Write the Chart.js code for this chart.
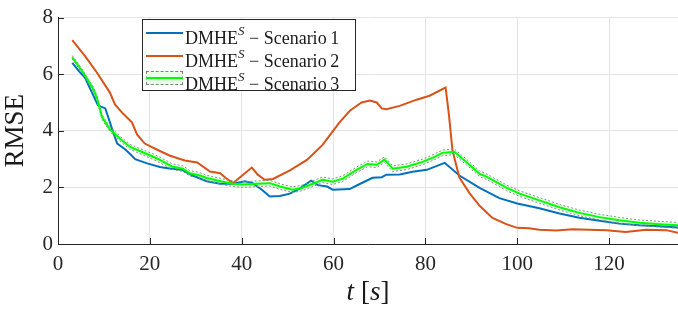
<!DOCTYPE html>
<html>
<head>
<meta charset="utf-8">
<script src="https://cdn.jsdelivr.net/npm/chart.js@4.4.1/dist/chart.umd.min.js"></script>
<style>
  body { margin: 0; background: #fff; }
  #wrap { position: relative; width: 678px; height: 311px; }
  #legend {
    position: absolute; left: 142px; top: 19px; width: 212px; height: 70px;
    border: 1px solid #262626; background: #fff;
    font-family: "Liberation Serif", serif; font-size: 18px; color: #1a1a1a;
  }
  .row { position: absolute; left: 0; height: 23px; line-height: 23px; white-space: nowrap; }
  .swatch { position: absolute; left: 3px; width: 37px; }
  .lbl { position: absolute; left: 42px; top: 0; }
  .lbl sup { font-size: 13px; font-style: italic; position: relative; top: -2px; }
  #xtitle {
    position: absolute; left: 318px; top: 276px; width: 100px; text-align: center;
    font-family: "Liberation Serif", serif; font-size: 27px; color: #1a1a1a;
  }
</style>
</head>
<body>
<div id="wrap">
  <canvas id="chart" width="678" height="311"></canvas>
  <div id="legend">
    <div class="row" style="top:1px;">
      <div class="swatch" style="top:11px;height:2px;background:#0072BD;"></div>
      <span class="lbl">DMHE<sup>S</sup> &minus; Scenario&#8201;1</span>
    </div>
    <div class="row" style="top:24px;">
      <div class="swatch" style="top:11px;height:2px;background:#D95319;"></div>
      <span class="lbl">DMHE<sup>S</sup> &minus; Scenario&#8201;2</span>
    </div>
    <div class="row" style="top:47px;">
      <div class="swatch" style="top:4px;height:14px;border:1px dashed #808080;background:#e6ffe6;box-sizing:border-box;"></div>
      <div class="swatch" style="top:10px;height:2px;background:#00ff00;"></div>
      <span class="lbl">DMHE<sup>S</sup> &minus; Scenario&#8201;3</span>
    </div>
  </div>
  <div id="xtitle"><i>t</i> [<i>s</i>]</div>
</div>
<script>
// ─── Data ────────────────────────────────────────────────────────────────────

const t1 = [3.1, 3.6, 4.6, 5.9, 7.6, 8.7, 10.3, 11.3, 12.1, 12.9, 14.6, 15.7, 16.8, 19.4, 22.2, 24.6, 27, 29.3, 32.4, 35.3,
            38.1, 40.7, 42.4, 44.4, 46.1, 48.3, 50.5, 52.6, 55.1, 56.6, 58.6, 59.8, 63.5, 65.7, 68.5, 70.5, 71.5, 74.4, 77.2, 80.3,
            84.2, 87.4, 91.8, 96.1, 100, 104.8, 109.2, 113.5, 117.9, 122.2, 126.6, 130.9, 135];
const rmse1 = [6.4, 6.3, 6.1, 5.87, 5.28, 4.9, 4.79, 4.3, 3.9, 3.55, 3.35, 3.18, 3.0, 2.85, 2.72, 2.66, 2.62, 2.42, 2.22, 2.13,
               2.13, 2.22, 2.15, 1.92, 1.68, 1.7, 1.78, 1.96, 2.24, 2.08, 2.03, 1.92, 1.94, 2.12, 2.34, 2.36, 2.45, 2.46, 2.55, 2.62,
               2.87, 2.42, 1.98, 1.62, 1.43, 1.26, 1.08, 0.93, 0.82, 0.72, 0.66, 0.63, 0.58];

const t2 = [3.1, 5.9, 8.5, 11.3, 12.4, 14.2, 16.1, 17.2, 18.9, 21.6, 24.4, 27.6, 30.3, 33.1, 35.3, 36.8, 38.1, 40.3, 42.2, 43.5,
            45, 46.8, 50.5, 54.2, 57.6, 61.3, 63.5, 64.6, 66.1, 67.9, 69.4, 70.5, 71.5, 74.4, 78.1, 80.9, 84.4, 85.1, 85.9, 87.4,
            89.6, 91.8, 94.6, 97.6, 100, 102.6, 104.8, 108.5, 112, 115.6, 119.4, 123.6, 128.1, 132.4, 135];
const rmse2 = [7.2, 6.64, 6.05, 5.35, 4.93, 4.6, 4.3, 3.87, 3.55, 3.33, 3.12, 2.95, 2.88, 2.56, 2.5, 2.3, 2.15, 2.45, 2.7, 2.45,
               2.27, 2.3, 2.6, 2.97, 3.5, 4.3, 4.7, 4.83, 5.0, 5.07, 5.0, 4.79, 4.76, 4.88, 5.1, 5.24, 5.53, 4.6, 3.3, 2.35,
               1.8, 1.35, 0.92, 0.7, 0.57, 0.56, 0.5, 0.48, 0.52, 0.5, 0.49, 0.42, 0.5, 0.49, 0.4];

const t3 = [3.1, 5.5, 7.6, 8.5, 9.6, 11.3, 13.5, 15.7, 18.3, 20.5, 22.2, 24.8, 27.2, 28.7, 30.9, 32.4, 35.9, 38.1, 40.3, 43.3,
            46.1, 48.3, 51.1, 53.1, 55.5, 57.6, 59.8, 62, 65, 67.4, 69.4, 71.1, 72.9, 75.9, 79.4, 82, 83.7, 86.3, 88.9, 91.8,
            93.3, 97.6, 100.5, 104.8, 109.2, 113.5, 117.9, 122.2, 126.6, 130.9, 135];
const rmse3 = [6.6, 6.05, 5.5, 5.15, 4.48, 4.06, 3.72, 3.43, 3.25, 3.1, 2.97, 2.74, 2.66, 2.5, 2.42, 2.33, 2.2, 2.13, 2.1, 2.13,
               2.15, 2.03, 1.92, 1.98, 2.13, 2.27, 2.2, 2.31, 2.62, 2.83, 2.8, 2.98, 2.66, 2.73, 2.9, 3.08, 3.22, 3.26, 2.9, 2.48,
               2.38, 1.99, 1.78, 1.54, 1.3, 1.1, 0.95, 0.84, 0.75, 0.7, 0.66];
const band3Upper = [6.66, 6.12, 5.58, 5.24, 4.56, 4.15, 3.81, 3.52, 3.34, 3.2, 3.07, 2.84, 2.76, 2.6, 2.52, 2.43, 2.3, 2.23, 2.2, 2.23,
                    2.25, 2.13, 2.02, 2.08, 2.23, 2.37, 2.3, 2.41, 2.72, 2.93, 2.9, 3.08, 2.76, 2.83, 3.0, 3.18, 3.32, 3.36, 3.0, 2.58,
                    2.48, 2.09, 1.88, 1.64, 1.4, 1.2, 1.05, 0.94, 0.85, 0.8, 0.76];
const band3Lower = [6.54, 5.98, 5.42, 5.06, 4.4, 3.97, 3.63, 3.34, 3.16, 3.0, 2.87, 2.64, 2.56, 2.4, 2.32, 2.23, 2.1, 2.03, 2.0, 2.03,
                    2.05, 1.93, 1.82, 1.88, 2.03, 2.17, 2.1, 2.21, 2.52, 2.73, 2.7, 2.88, 2.56, 2.63, 2.8, 2.98, 3.12, 3.16, 2.8, 2.38,
                    2.28, 1.89, 1.68, 1.44, 1.2, 1.0, 0.85, 0.74, 0.65, 0.6, 0.56];

const xTicks = [0, 20, 40, 60, 80, 100, 120];
const yTicks = [0, 2, 4, 6, 8];

// ─── Helpers ─────────────────────────────────────────────────────────────────

const pts = (xs, ys) => xs.map((x, i) => ({ x, y: ys[i] }));
const serif = '"Liberation Serif", serif';
const axisCol = '#262626';

// MATLAB-style ticks pointing into the plot
const innerTicks = {
  id: 'innerTicks',
  afterDatasetsDraw(chart) {
    const { ctx, chartArea: a, scales: { x, y } } = chart;
    ctx.save();
    ctx.strokeStyle = axisCol;
    ctx.lineWidth = 1;
    ctx.beginPath();
    xTicks.forEach(v => {
      const px = Math.round(x.getPixelForValue(v)) + 0.5;
      ctx.moveTo(px, a.bottom); ctx.lineTo(px, a.bottom - 6);
    });
    yTicks.forEach(v => {
      const py = Math.round(y.getPixelForValue(v)) + 0.5;
      ctx.moveTo(a.left, py); ctx.lineTo(a.left + 6, py);
    });
    ctx.stroke();
    ctx.restore();
  },
};

new Chart(document.getElementById('chart'), {
  type: 'line',
  data: {
    datasets: [
      { data: pts(t3, rmse3),      borderColor: '#00ff00', borderWidth: 2, order: 0 },
      { data: pts(t3, band3Upper), borderColor: '#8c8c8c', borderWidth: 1, borderDash: [2, 2], order: 1 },
      { data: pts(t3, band3Lower), borderColor: '#8c8c8c', borderWidth: 1, borderDash: [2, 2], order: 2,
        fill: '-1', backgroundColor: 'rgba(0,255,0,0.10)' },
      { data: pts(t2, rmse2),      borderColor: '#D95319', borderWidth: 2, order: 3 },
      { data: pts(t1, rmse1),      borderColor: '#0072BD', borderWidth: 2, order: 4 },
    ],
  },
  options: {
    responsive: false,
    animation: false,
    devicePixelRatio: 1,
    layout: { padding: { top: 14, right: 0, left: 0, bottom: 0 } },
    elements: { point: { radius: 0 }, line: { tension: 0, fill: false } },
    plugins: { legend: { display: false }, tooltip: { enabled: false } },
    scales: {
      x: {
        type: 'linear', min: 0, max: 135,
        afterFit: s => { s.height = 67; },
        border: { color: axisCol, width: 1 },
        grid: { color: '#e4e4e4', drawTicks: false },
        ticks: { stepSize: 20, includeBounds: false, padding: 8, color: '#262626',
                 font: { family: serif, size: 21 } },
      },
      y: {
        min: 0, max: 8,
        afterFit: s => { s.width = 58; },
        border: { color: axisCol, width: 1 },
        grid: { color: '#e4e4e4', drawTicks: false },
        ticks: { stepSize: 2, padding: 5, color: '#262626', font: { family: serif, size: 21 } },
        title: { display: true, text: 'RMSE', color: '#1a1a1a', padding: { top: 0, bottom: 0 },
                 font: { family: serif, size: 27 } },
      },
    },
  },
  plugins: [innerTicks],
});
</script>
</body>
</html>
